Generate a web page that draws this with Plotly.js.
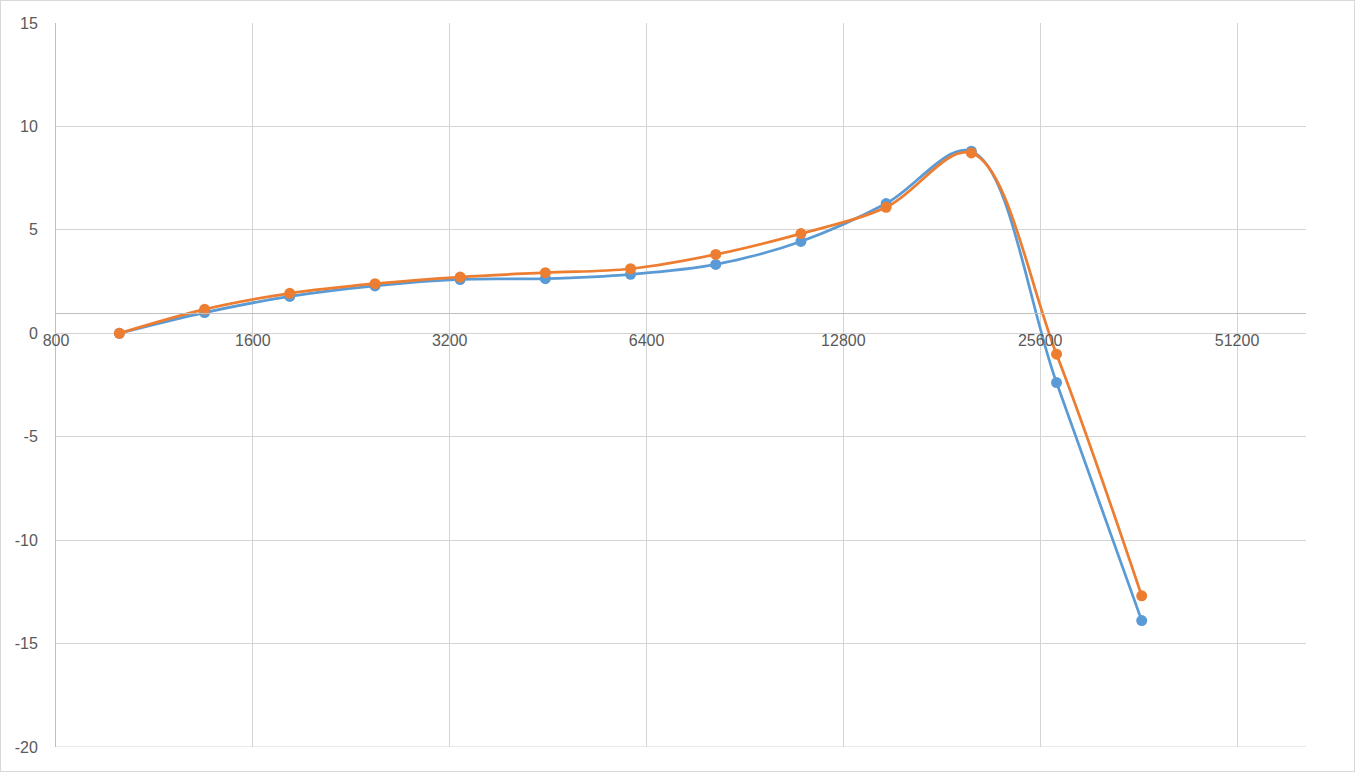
<!DOCTYPE html>
<html>
<head>
<meta charset="utf-8">
<script src="https://cdn.plot.ly/plotly-3.0.1.min.js"></script>
<style>
  html, body { margin: 0; padding: 0; background: #ffffff; }
  #wrap { position: relative; width: 1355px; height: 772px; }
  #chart { position: absolute; left: 0; top: 0; width: 1355px; height: 772px; }
  #frame { position: absolute; left: 0; top: 0; width: 1355px; height: 772px; box-sizing: border-box; border: 1px solid #d9d9d9; pointer-events: none; }
</style>
</head>
<body>
<div id="wrap">
  <div id="chart"></div>
  <div id="frame"></div>
</div>
<script>
// Frequencies (x)
const freqs = [1000, 1350, 1822, 2460, 3320, 4482, 6050, 8166, 11023, 14880, 20086, 27113, 36598];
// Series values
const seriesBlue = [0, 1.0, 1.78, 2.29, 2.6, 2.64, 2.85, 3.33, 4.44, 6.27, 8.8, -2.38, -13.89];
const seriesOrange = [0, 1.16, 1.93, 2.4, 2.72, 2.93, 3.12, 3.81, 4.82, 6.09, 8.72, -1.01, -12.69];
// Axis ticks
const xTickVals = [800, 1600, 3200, 6400, 12800, 25600, 51200];
const xTickText = ["800", "1600", "3200", "6400", "12800", "25600", "51200"];
const yTickVals = [-20, -15, -10, -5, 0, 5, 10, 15];
const yTickText = ["-20", "-15", "-10", "-5", "0", "5", "10", "15"];

const blue = '#5B9BD5';
const orange = '#ED7D31';

const traces = [
  {
    x: freqs, y: seriesBlue, type: 'scatter', mode: 'lines+markers',
    line: { color: blue, width: 2.75, shape: 'spline', smoothing: 1 },
    marker: { color: blue, size: 11 },
    name: 'Series1', cliponaxis: false
  },
  {
    x: freqs, y: seriesOrange, type: 'scatter', mode: 'lines+markers',
    line: { color: orange, width: 2.75, shape: 'spline', smoothing: 1 },
    marker: { color: orange, size: 11 },
    name: 'Series2', cliponaxis: false
  }
];

const xMin = Math.log10(800);
const xMax = Math.log10(65270);
const fontFam = 'Liberation Sans, Arial, sans-serif';

const layout = {
  width: 1355, height: 772,
  margin: { l: 56, r: 49, t: 23, b: 25, pad: 0 },
  paper_bgcolor: '#ffffff', plot_bgcolor: '#ffffff',
  showlegend: false,
  font: { family: fontFam, size: 16, color: '#595959' },
  xaxis: {
    type: 'log', range: [xMin, xMax],
    tickmode: 'array', tickvals: xTickVals, ticktext: xTickText,
    showgrid: true, gridcolor: '#d4d4d4', gridwidth: 1,
    showline: true, linecolor: '#bfbfbf', linewidth: 1,
    zeroline: false, ticks: '',
    anchor: 'free', position: 0.6,
    ticklabelstandoff: 13,
    tickfont: { family: fontFam, size: 16, color: '#595959' },
    fixedrange: true
  },
  yaxis: {
    range: [-20, 15],
    tickmode: 'array', tickvals: yTickVals, ticktext: yTickText,
    showgrid: true, gridcolor: '#d4d4d4', gridwidth: 1,
    showline: true, linecolor: '#bfbfbf', linewidth: 1,
    zeroline: false, ticks: '',
    ticklabelstandoff: 14,
    tickfont: { family: fontFam, size: 16, color: '#595959' },
    fixedrange: true
  },
  shapes: [
    { type: 'line', xref: 'paper', yref: 'y', x0: 0, x1: 1, y0: -20, y1: -20,
      line: { color: '#d4d4d4', width: 1 }, layer: 'below' }
  ]
};

Plotly.newPlot('chart', traces, layout, { displayModeBar: false, staticPlot: true });
</script>
</body>
</html>
